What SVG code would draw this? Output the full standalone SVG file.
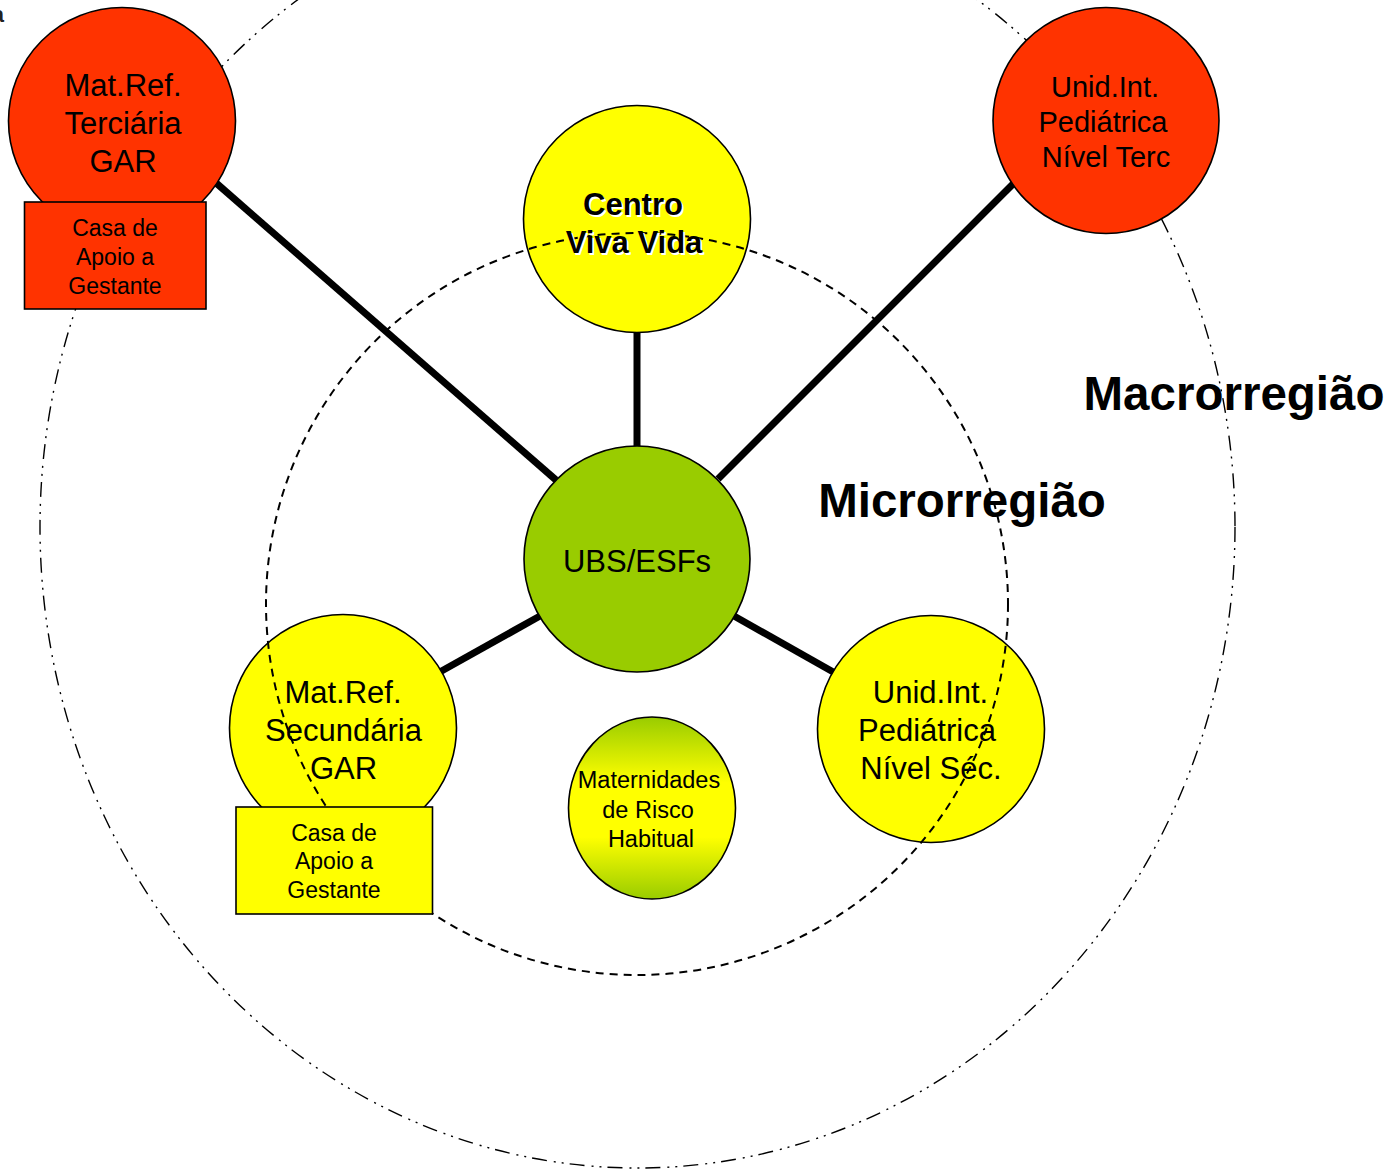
<svg xmlns="http://www.w3.org/2000/svg" width="1393" height="1170" viewBox="0 0 1393 1170">
<defs>
<linearGradient id="gradMat" x1="0" y1="0" x2="0" y2="1">
<stop offset="0" stop-color="#99CC00"/>
<stop offset="0.36" stop-color="#FFFF00"/>
<stop offset="0.66" stop-color="#FFFF00"/>
<stop offset="1" stop-color="#99CC00"/>
</linearGradient>
<style>
.t{font-family:"Liberation Sans",Arial,sans-serif;fill:#000;text-anchor:middle}
.node{stroke:#000;stroke-width:1.6}
.red{fill:#FF3300}
.yel{fill:#FFFF00}
.grn{fill:#99CC00}
.conn line{stroke:#000;stroke-width:7}
.region{fill:none;stroke:#000}
.big{font-weight:bold;font-size:47.5px}
</style>
</defs>
<rect x="0" y="0" width="1393" height="1170" fill="#fff"/>
<text class="t" x="4" y="22" style="text-anchor:end;font-weight:bold;font-size:22px;fill:#222">a</text>

<g id="macrorregiao">
<ellipse class="region" cx="637.5" cy="527" rx="597.5" ry="641" stroke-width="1.4" stroke-dasharray="15 6 2 6 2 7"/>
<text class="t big" x="1234" y="410">Macrorregião</text>
</g>

<g id="connectors" class="conn">
<line x1="215" y1="182" x2="556" y2="480"/>
<line x1="637" y1="330" x2="637" y2="449"/>
<line x1="1015" y1="182" x2="718" y2="479"/>
<line x1="540" y1="616" x2="438" y2="673"/>
<line x1="734" y1="616" x2="835" y2="673"/>
</g>

<g id="mat-ref-terciaria">
<circle class="node red" cx="122" cy="121" r="113.5"/>
<text class="t" style="font-size:31px"><tspan x="123" y="96">Mat.Ref.</tspan><tspan x="123" y="134">Terciária</tspan><tspan x="123" y="172">GAR</tspan></text>
</g>

<g id="casa-apoio-terciaria">
<rect class="node red" x="24.5" y="202" width="181.5" height="107"/>
<text class="t" style="font-size:23px"><tspan x="115" y="236">Casa de</tspan><tspan x="115" y="265">Apoio a</tspan><tspan x="115" y="294">Gestante</tspan></text>
</g>

<g id="unid-int-pediatrica-terc">
<circle class="node red" cx="1106" cy="120.5" r="113"/>
<text class="t" style="font-size:29px"><tspan x="1105" y="97">Unid.Int.</tspan><tspan x="1103" y="132">Pediátrica</tspan><tspan x="1106" y="167">Nível Terc</tspan></text>
</g>

<g id="centro-viva-vida">
<circle class="node yel" cx="637" cy="219" r="113.5"/>
</g>

<g id="ubs-esfs">
<circle class="node grn" cx="637" cy="559" r="113"/>
<text class="t" x="637" y="572" style="font-size:31px">UBS/ESFs</text>
</g>

<g id="mat-ref-secundaria">
<circle class="node yel" cx="343" cy="728" r="113.5"/>
</g>

<g id="unid-int-pediatrica-sec">
<circle class="node yel" cx="931" cy="729" r="113.5"/>
</g>

<g id="maternidades-risco-habitual">
<ellipse class="node" cx="652" cy="808" rx="83.5" ry="91" fill="url(#gradMat)"/>
<text class="t" style="font-size:23.5px"><tspan x="649" y="788">Maternidades</tspan><tspan x="648" y="818">de Risco</tspan><tspan x="651" y="847">Habitual</tspan></text>
</g>

<g id="microrregiao">
<circle class="region" cx="637" cy="604" r="371" stroke-width="2" stroke-dasharray="8 6"/>
<text class="t big" x="962" y="517">Microrregião</text>
</g>

<g id="casa-apoio-secundaria">
<rect class="node yel" x="236" y="807" width="196.5" height="107"/>
<text class="t" style="font-size:23px"><tspan x="334" y="841">Casa de</tspan><tspan x="334" y="869">Apoio a</tspan><tspan x="334" y="898">Gestante</tspan></text>
</g>

<g id="labels">
<g id="centro-viva-vida-label" style="font-weight:bold;font-size:31px">
<text class="t" style="fill:#fff"><tspan x="635" y="217">Centro</tspan><tspan x="636" y="255">Viva Vida</tspan></text>
<text class="t"><tspan x="633" y="215">Centro</tspan><tspan x="634" y="253">Viva Vida</tspan></text>
</g>
<text id="mat-ref-secundaria-label" class="t" style="font-size:31px"><tspan x="343" y="703">Mat.Ref.</tspan><tspan x="343.5" y="741">Secundária</tspan><tspan x="343.5" y="779">GAR</tspan></text>
<text id="unid-int-pediatrica-sec-label" class="t" style="font-size:31px"><tspan x="930.5" y="703">Unid.Int.</tspan><tspan x="927" y="741">Pediátrica</tspan><tspan x="931" y="779">Nível Séc.</tspan></text>
</g>
</svg>
